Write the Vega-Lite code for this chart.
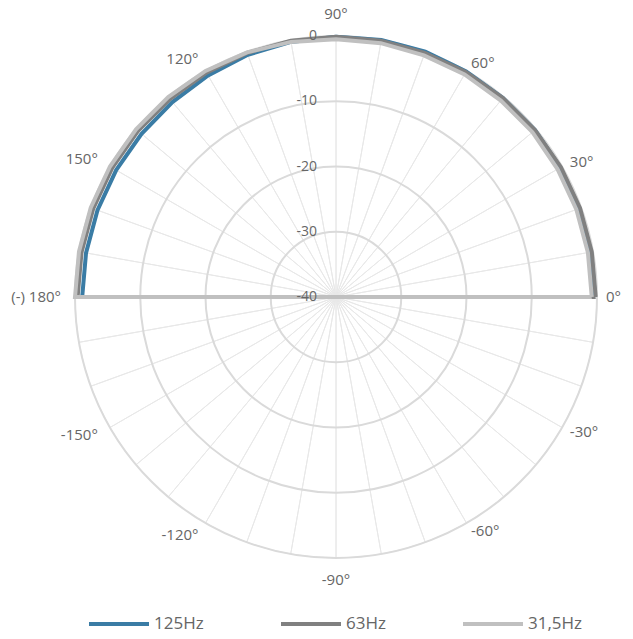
{
  "$schema": "https://vega.github.io/schema/vega-lite/v6.json",
  "width": 522,
  "height": 522,
  "autosize": {"type": "none"},
  "padding": {"left": 75, "top": 36, "right": 36, "bottom": 81},
  "config": {"view": {"stroke": null}, "font": "Open Sans"},
  "datasets": {
    "wedges": [
      {"a": 0, "a2": 10}, {"a": 10, "a2": 20}, {"a": 20, "a2": 30}, {"a": 30, "a2": 40},
      {"a": 40, "a2": 50}, {"a": 50, "a2": 60}, {"a": 60, "a2": 70}, {"a": 70, "a2": 80},
      {"a": 80, "a2": 90}, {"a": 90, "a2": 100}, {"a": 100, "a2": 110}, {"a": 110, "a2": 120},
      {"a": 120, "a2": 130}, {"a": 130, "a2": 140}, {"a": 140, "a2": 150}, {"a": 150, "a2": 160},
      {"a": 160, "a2": 170}, {"a": 170, "a2": 180}, {"a": 180, "a2": 190}, {"a": 190, "a2": 200},
      {"a": 200, "a2": 210}, {"a": 210, "a2": 220}, {"a": 220, "a2": 230}, {"a": 230, "a2": 240},
      {"a": 240, "a2": 250}, {"a": 250, "a2": 260}, {"a": 260, "a2": 270}, {"a": 270, "a2": 280},
      {"a": 280, "a2": 290}, {"a": 290, "a2": 300}, {"a": 300, "a2": 310}, {"a": 310, "a2": 320},
      {"a": 320, "a2": 330}, {"a": 330, "a2": 340}, {"a": 340, "a2": 350}, {"a": 350, "a2": 360}
    ],
    "rings": [{"r": 0}, {"r": -10}, {"r": -20}, {"r": -30}],
    "ticks": [{"r": 0, "t": "0"}, {"r": -10, "t": "-10"}, {"r": -20, "t": "-20"}, {"r": -30, "t": "-30"}, {"r": -40, "t": "-40"}],
    "labRight": [{"a": 0, "t": "0°"}, {"a": 30, "t": "30°"}, {"a": 60, "t": "60°"}, {"a": 300, "t": "-60°"}, {"a": 330, "t": "-30°"}],
    "labLeft": [{"a": 120, "t": "120°"}, {"a": 150, "t": "150°"}, {"a": 180, "t": "(-) 180°"}, {"a": 210, "t": "-150°"}, {"a": 240, "t": "-120°"}],
    "labCenter": [{"a": 90, "t": "90°"}, {"a": 270, "t": "-90°"}],
    "series": [
      {"s": "125Hz", "angle": 0, "db": -0.3}, {"s": "125Hz", "angle": 10, "db": -0.3}, {"s": "125Hz", "angle": 20, "db": -0.3},
      {"s": "125Hz", "angle": 30, "db": -0.3}, {"s": "125Hz", "angle": 40, "db": -0.2}, {"s": "125Hz", "angle": 50, "db": -0.2},
      {"s": "125Hz", "angle": 60, "db": -0.1}, {"s": "125Hz", "angle": 70, "db": 0}, {"s": "125Hz", "angle": 80, "db": 0},
      {"s": "125Hz", "angle": 90, "db": -0.1}, {"s": "125Hz", "angle": 100, "db": -0.3}, {"s": "125Hz", "angle": 110, "db": -0.5},
      {"s": "125Hz", "angle": 120, "db": -0.8}, {"s": "125Hz", "angle": 130, "db": -1.0}, {"s": "125Hz", "angle": 140, "db": -1.1},
      {"s": "125Hz", "angle": 150, "db": -1.1}, {"s": "125Hz", "angle": 160, "db": -1.1}, {"s": "125Hz", "angle": 170, "db": -1.1},
      {"s": "125Hz", "angle": 180, "db": -1.1},
      {"s": "125Hz", "angle": 190, "db": -40}, {"s": "125Hz", "angle": 200, "db": -40}, {"s": "125Hz", "angle": 210, "db": -40},
      {"s": "125Hz", "angle": 220, "db": -40}, {"s": "125Hz", "angle": 230, "db": -40}, {"s": "125Hz", "angle": 240, "db": -40},
      {"s": "125Hz", "angle": 250, "db": -40}, {"s": "125Hz", "angle": 260, "db": -40}, {"s": "125Hz", "angle": 270, "db": -40},
      {"s": "125Hz", "angle": 280, "db": -40}, {"s": "125Hz", "angle": 290, "db": -40}, {"s": "125Hz", "angle": 300, "db": -40},
      {"s": "125Hz", "angle": 310, "db": -40}, {"s": "125Hz", "angle": 320, "db": -40}, {"s": "125Hz", "angle": 330, "db": -40},
      {"s": "125Hz", "angle": 340, "db": -40}, {"s": "125Hz", "angle": 350, "db": -40}, {"s": "125Hz", "angle": 360, "db": -0.3},

      {"s": "63Hz", "angle": 0, "db": -0.2}, {"s": "63Hz", "angle": 10, "db": -0.2}, {"s": "63Hz", "angle": 20, "db": -0.2},
      {"s": "63Hz", "angle": 30, "db": -0.2}, {"s": "63Hz", "angle": 40, "db": -0.2}, {"s": "63Hz", "angle": 50, "db": -0.2},
      {"s": "63Hz", "angle": 60, "db": -0.2}, {"s": "63Hz", "angle": 70, "db": -0.2}, {"s": "63Hz", "angle": 80, "db": -0.1},
      {"s": "63Hz", "angle": 90, "db": -0.1}, {"s": "63Hz", "angle": 100, "db": -0.1}, {"s": "63Hz", "angle": 110, "db": -0.2},
      {"s": "63Hz", "angle": 120, "db": -0.3}, {"s": "63Hz", "angle": 130, "db": -0.4}, {"s": "63Hz", "angle": 140, "db": -0.4},
      {"s": "63Hz", "angle": 150, "db": -0.4}, {"s": "63Hz", "angle": 160, "db": -0.4}, {"s": "63Hz", "angle": 170, "db": -0.4},
      {"s": "63Hz", "angle": 180, "db": -0.4},
      {"s": "63Hz", "angle": 190, "db": -40}, {"s": "63Hz", "angle": 200, "db": -40}, {"s": "63Hz", "angle": 210, "db": -40},
      {"s": "63Hz", "angle": 220, "db": -40}, {"s": "63Hz", "angle": 230, "db": -40}, {"s": "63Hz", "angle": 240, "db": -40},
      {"s": "63Hz", "angle": 250, "db": -40}, {"s": "63Hz", "angle": 260, "db": -40}, {"s": "63Hz", "angle": 270, "db": -40},
      {"s": "63Hz", "angle": 280, "db": -40}, {"s": "63Hz", "angle": 290, "db": -40}, {"s": "63Hz", "angle": 300, "db": -40},
      {"s": "63Hz", "angle": 310, "db": -40}, {"s": "63Hz", "angle": 320, "db": -40}, {"s": "63Hz", "angle": 330, "db": -40},
      {"s": "63Hz", "angle": 340, "db": -40}, {"s": "63Hz", "angle": 350, "db": -40}, {"s": "63Hz", "angle": 360, "db": -0.2},

      {"s": "31,5Hz", "angle": 0, "db": -0.8}, {"s": "31,5Hz", "angle": 10, "db": -0.8}, {"s": "31,5Hz", "angle": 20, "db": -0.8},
      {"s": "31,5Hz", "angle": 30, "db": -0.8}, {"s": "31,5Hz", "angle": 40, "db": -0.7}, {"s": "31,5Hz", "angle": 50, "db": -0.7},
      {"s": "31,5Hz", "angle": 60, "db": -0.6}, {"s": "31,5Hz", "angle": 70, "db": -0.6}, {"s": "31,5Hz", "angle": 80, "db": -0.5},
      {"s": "31,5Hz", "angle": 90, "db": -0.5}, {"s": "31,5Hz", "angle": 100, "db": -0.3}, {"s": "31,5Hz", "angle": 110, "db": -0.1},
      {"s": "31,5Hz", "angle": 120, "db": 0}, {"s": "31,5Hz", "angle": 130, "db": 0}, {"s": "31,5Hz", "angle": 140, "db": 0},
      {"s": "31,5Hz", "angle": 150, "db": 0}, {"s": "31,5Hz", "angle": 160, "db": 0}, {"s": "31,5Hz", "angle": 170, "db": 0},
      {"s": "31,5Hz", "angle": 180, "db": 0},
      {"s": "31,5Hz", "angle": 190, "db": -40}, {"s": "31,5Hz", "angle": 200, "db": -40}, {"s": "31,5Hz", "angle": 210, "db": -40},
      {"s": "31,5Hz", "angle": 220, "db": -40}, {"s": "31,5Hz", "angle": 230, "db": -40}, {"s": "31,5Hz", "angle": 240, "db": -40},
      {"s": "31,5Hz", "angle": 250, "db": -40}, {"s": "31,5Hz", "angle": 260, "db": -40}, {"s": "31,5Hz", "angle": 270, "db": -40},
      {"s": "31,5Hz", "angle": 280, "db": -40}, {"s": "31,5Hz", "angle": 290, "db": -40}, {"s": "31,5Hz", "angle": 300, "db": -40},
      {"s": "31,5Hz", "angle": 310, "db": -40}, {"s": "31,5Hz", "angle": 320, "db": -40}, {"s": "31,5Hz", "angle": 330, "db": -40},
      {"s": "31,5Hz", "angle": 340, "db": -40}, {"s": "31,5Hz", "angle": 350, "db": -40}, {"s": "31,5Hz", "angle": 360, "db": -0.8}
    ]
  },
  "layer": [
    {
      "data": {"name": "wedges"},
      "mark": {"type": "arc", "filled": false, "stroke": "#e8e8e8", "strokeWidth": 1},
      "encoding": {
        "theta": {"field": "a", "type": "quantitative", "stack": null, "scale": {"type": "linear", "domain": [0, 360], "range": [1.5707963268, -4.7123889804]}},
        "theta2": {"field": "a2"},
        "radius": {"datum": -40, "type": "quantitative", "scale": {"type": "linear", "domain": [-40, 0], "range": [0, 261], "zero": false}},
        "radius2": {"datum": 0}
      }
    },
    {
      "data": {"name": "rings"},
      "mark": {"type": "arc", "filled": false, "stroke": "#dadada", "strokeWidth": 2},
      "encoding": {
        "theta": {"datum": 0, "type": "quantitative", "stack": null, "scale": {"type": "linear", "domain": [0, 360], "range": [1.5707963268, -4.7123889804]}},
        "theta2": {"datum": 360},
        "radius": {"field": "r", "type": "quantitative", "scale": {"type": "linear", "domain": [-40, 0], "range": [0, 261], "zero": false}},
        "radius2": {"field": "r"}
      }
    },
    {
      "data": {"name": "series"},
      "transform": [
        {"filter": "datum.s === '125Hz'"},
        {"calculate": "(datum.db + 40) * cos(datum.angle * PI / 180)", "as": "px"},
        {"calculate": "(datum.db + 40) * sin(datum.angle * PI / 180)", "as": "py"}
      ],
      "mark": {"type": "line", "strokeWidth": 4, "strokeJoin": "miter"},
      "encoding": {
        "x": {"field": "px", "type": "quantitative", "scale": {"domain": [-40, 40], "nice": false, "zero": false}, "axis": null},
        "y": {"field": "py", "type": "quantitative", "scale": {"domain": [-40, 40], "nice": false, "zero": false}, "axis": null},
        "order": {"field": "angle", "type": "quantitative"},
        "color": {"field": "s", "type": "nominal",
          "scale": {"domain": ["125Hz", "63Hz", "31,5Hz"], "range": ["#3a7ca5", "#808080", "#c0c0c0"]},
          "legend": {"orient": "none", "legendX": 12, "legendY": 556, "direction": "horizontal", "title": null,
            "symbolType": "stroke", "symbolSize": 3600, "symbolStrokeWidth": 4, "labelFont": "Open Sans", "labelFontSize": 17,
            "labelColor": "#666666", "columnPadding": 69, "labelOffset": 3, "padding": 0}}
      }
    },
    {
      "data": {"name": "series"},
      "transform": [
        {"filter": "datum.s === '63Hz'"},
        {"calculate": "(datum.db + 40) * cos(datum.angle * PI / 180)", "as": "px"},
        {"calculate": "(datum.db + 40) * sin(datum.angle * PI / 180)", "as": "py"}
      ],
      "mark": {"type": "line", "strokeWidth": 4, "strokeJoin": "miter"},
      "encoding": {
        "x": {"field": "px", "type": "quantitative", "scale": {"domain": [-40, 40], "nice": false, "zero": false}, "axis": null},
        "y": {"field": "py", "type": "quantitative", "scale": {"domain": [-40, 40], "nice": false, "zero": false}, "axis": null},
        "order": {"field": "angle", "type": "quantitative"},
        "color": {"field": "s", "type": "nominal"}
      }
    },
    {
      "data": {"name": "series"},
      "transform": [
        {"filter": "datum.s === '31,5Hz'"},
        {"calculate": "(datum.db + 40) * cos(datum.angle * PI / 180)", "as": "px"},
        {"calculate": "(datum.db + 40) * sin(datum.angle * PI / 180)", "as": "py"}
      ],
      "mark": {"type": "line", "strokeWidth": 4, "strokeJoin": "miter"},
      "encoding": {
        "x": {"field": "px", "type": "quantitative", "scale": {"domain": [-40, 40], "nice": false, "zero": false}, "axis": null},
        "y": {"field": "py", "type": "quantitative", "scale": {"domain": [-40, 40], "nice": false, "zero": false}, "axis": null},
        "order": {"field": "angle", "type": "quantitative"},
        "color": {"field": "s", "type": "nominal"}
      }
    },
    {
      "data": {"name": "ticks"},
      "mark": {"type": "text", "align": "right", "baseline": "middle", "dx": -19, "fontSize": 14, "fill": "#666666", "font": "Open Sans"},
      "encoding": {
        "theta": {"datum": 90, "type": "quantitative", "scale": {"type": "linear", "domain": [0, 360], "range": [1.5707963268, -4.7123889804]}},
        "radius": {"field": "r", "type": "quantitative", "scale": {"type": "linear", "domain": [-40, 0], "range": [0, 261], "zero": false}},
        "text": {"field": "t"}
      }
    },
    {
      "data": {"name": "labRight"},
      "mark": {"type": "text", "align": "left", "baseline": "middle", "fontSize": 15, "fill": "#666666", "font": "Open Sans"},
      "encoding": {
        "theta": {"field": "a", "type": "quantitative", "scale": {"type": "linear", "domain": [0, 360], "range": [1.5707963268, -4.7123889804]}},
        "radius": {"datum": 1.38, "type": "quantitative", "scale": {"type": "linear", "domain": [-40, 0], "range": [0, 261], "zero": false}},
        "text": {"field": "t"}
      }
    },
    {
      "data": {"name": "labLeft"},
      "mark": {"type": "text", "align": "right", "baseline": "middle", "fontSize": 15, "fill": "#666666", "font": "Open Sans"},
      "encoding": {
        "theta": {"field": "a", "type": "quantitative", "scale": {"type": "linear", "domain": [0, 360], "range": [1.5707963268, -4.7123889804]}},
        "radius": {"datum": 2.15, "type": "quantitative", "scale": {"type": "linear", "domain": [-40, 0], "range": [0, 261], "zero": false}},
        "text": {"field": "t"}
      }
    },
    {
      "data": {"name": "labCenter"},
      "mark": {"type": "text", "align": "center", "baseline": "middle", "fontSize": 15, "fill": "#666666", "font": "Open Sans"},
      "encoding": {
        "theta": {"field": "a", "type": "quantitative", "scale": {"type": "linear", "domain": [0, 360], "range": [1.5707963268, -4.7123889804]}},
        "radius": {"datum": 3.37, "type": "quantitative", "scale": {"type": "linear", "domain": [-40, 0], "range": [0, 261], "zero": false}},
        "text": {"field": "t"}
      }
    }
  ]
}
